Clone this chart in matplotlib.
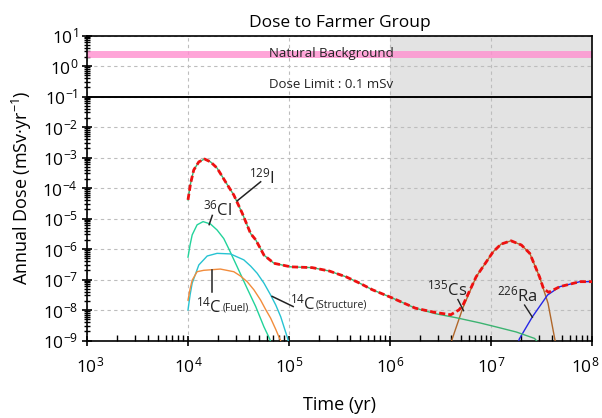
import matplotlib
matplotlib.use("Agg")
import matplotlib.pyplot as plt
import matplotlib.transforms as mtransforms
from matplotlib.ticker import LogLocator, LogFormatterSciNotation, NullFormatter

FONT = "Open Sans"
plt.rcParams['font.family'] = [FONT, 'DejaVu Sans']
plt.rcParams['mathtext.fontset'] = 'custom'
plt.rcParams['mathtext.rm'] = FONT
plt.rcParams['mathtext.it'] = FONT
plt.rcParams['mathtext.default'] = 'regular'

# ---- data (time in yr, dose in mSv/yr) ----
t_i129 = [1.0e4, 1.06e4, 1.14e4, 1.28e4, 1.46e4, 1.67e4, 1.94e4, 2.35e4, 2.84e4, 3.44e4,
          4.17e4, 4.68e4, 5.65e4, 7.1e4, 1.04e5, 1.7e5, 2.5e5, 3.66e5, 5.0e5, 6.7e5,
          1.02e6, 1.78e6, 2.8e6, 4.5e6, 7.7e6, 1.12e7, 1.78e7, 2.7e7, 2.9e7]
d_i129 = [4.1e-5, 1.4e-4, 3.9e-4, 7.2e-4, 8.9e-4, 7.2e-4, 4.5e-4, 1.6e-4, 5.9e-5, 1.5e-5,
          3.2e-6, 2.0e-6, 6.3e-7, 3.4e-7, 2.6e-7, 2.45e-7, 1.9e-7, 1.23e-7, 7.6e-8, 4.6e-8,
          2.6e-8, 1.15e-8, 7.6e-9, 5.6e-9, 3.8e-9, 2.8e-9, 1.9e-9, 1.17e-9, 8.9e-10]

t_cl36 = [1.0e4, 1.05e4, 1.1e4, 1.23e4, 1.41e4, 1.67e4, 1.94e4, 2.26e4, 2.54e4, 3.07e4,
          3.85e4, 4.68e4, 5.65e4, 6.46e4, 6.8e4]
d_cl36 = [5.4e-7, 1.4e-6, 2.9e-6, 6.2e-6, 7.9e-6, 6.6e-6, 4.2e-6, 2.2e-6, 1.0e-6, 2.6e-7,
          5.1e-8, 1.3e-8, 2.8e-9, 1.1e-9, 6e-10]

t_c14s = [1.0e4, 1.05e4, 1.1e4, 1.28e4, 1.55e4, 1.94e4, 2.63e4, 3.57e4, 4.17e4, 4.84e4,
          5.65e4, 6.58e4, 7.4e4, 8.28e4, 9.6e4, 1.0e5]
d_c14s = [1.0e-8, 3.2e-8, 7.6e-8, 3.0e-7, 5.9e-7, 7.2e-7, 6.9e-7, 4.4e-7, 2.75e-7, 1.6e-7,
          7.6e-8, 3.1e-8, 1.45e-8, 6.0e-9, 1.3e-9, 8e-10]

t_c14f = [1.0e4, 1.05e4, 1.1e4, 1.23e4, 1.43e4, 2.09e4, 2.84e4, 3.31e4, 3.85e4, 4.49e4,
          5.24e4, 5.86e4, 6.58e4, 7.4e4, 8.13e4, 8.5e4]
d_c14f = [2.1e-8, 5.0e-8, 9.5e-8, 1.8e-7, 2.0e-7, 2.2e-7, 1.8e-7, 1.3e-7, 8.5e-8, 4.6e-8,
          2.1e-8, 1.05e-8, 5.4e-9, 2.3e-9, 1.1e-9, 8e-10]

t_cs135 = [4.0e6, 4.12e6, 5.25e6, 7.13e6, 1.05e7, 1.26e7, 1.58e7, 2.0e7, 2.42e7, 3.02e7,
           3.67e7, 4.27e7, 4.37e7]
d_cs135 = [8e-10, 1.1e-9, 1.15e-8, 1.23e-7, 8.1e-7, 1.45e-6, 1.86e-6, 1.35e-6, 7.2e-7, 1.23e-7,
           1.66e-8, 1.17e-9, 8e-10]

t_ra226 = [1.86e7, 1.9e7, 2.57e7, 3.63e7, 4.79e7, 7.6e7, 1.0e8]
d_ra226 = [8e-10, 1.1e-9, 6.0e-9, 3.1e-8, 5.8e-8, 8.5e-8, 8.5e-8]

t_total = [1.0e4, 1.06e4, 1.14e4, 1.28e4, 1.46e4, 1.67e4, 1.94e4, 2.35e4, 2.84e4, 3.44e4,
           4.17e4, 4.68e4, 5.65e4, 7.1e4, 1.04e5, 1.7e5, 2.5e5, 3.66e5, 5.0e5, 6.7e5,
           1.02e6, 1.78e6, 2.8e6, 4.0e6, 4.8e6, 5.25e6, 7.13e6, 1.05e7, 1.26e7, 1.58e7,
           2.0e7, 2.42e7, 3.02e7, 3.31e7, 3.72e7, 4.79e7, 7.6e7, 1.0e8]
d_total = [4.1e-5, 1.4e-4, 3.9e-4, 7.2e-4, 8.9e-4, 7.2e-4, 4.5e-4, 1.6e-4, 5.9e-5, 1.5e-5,
           3.2e-6, 2.0e-6, 6.3e-7, 3.4e-7, 2.6e-7, 2.45e-7, 1.9e-7, 1.23e-7, 7.6e-8, 4.6e-8,
           2.6e-8, 1.15e-8, 8.3e-9, 7.0e-9, 1.0e-8, 1.4e-8, 1.23e-7, 8.1e-7, 1.45e-6, 1.86e-6,
           1.35e-6, 7.2e-7, 1.23e-7, 5.0e-8, 3.8e-8, 5.8e-8, 8.5e-8, 8.5e-8]

natural_background = 2.4
dose_limit = 0.1

fig = plt.figure(figsize=(6.02, 4.18), dpi=100)
ax = fig.add_axes([87/602, 77.5/418, 505/602, 305/418])
ax.set_xscale('log')
ax.set_yscale('log')
ax.set_xlim(1e3, 1e8)
ax.set_ylim(1e-9, 1e1)

ax.axvspan(1e6, 1e8, color='#e3e3e3', zorder=0, lw=0)
ax.set_axisbelow(True)
ax.grid(True, which='major', ls=(0, (3, 3)), color='#bdbdbd', lw=0.8)

ax.axhline(natural_background, color='#ff8fcf', lw=5, alpha=0.8, zorder=2)
ax.axhline(dose_limit, color='black', lw=1.4, zorder=3)

lw = 1.0
ax.plot(t_cl36, d_cl36, color='#22d39a', lw=lw, zorder=4)
ax.plot(t_c14s, d_c14s, color='#27c3d2', lw=lw, zorder=4)
ax.plot(t_c14f, d_c14f, color='#f28c3c', lw=lw, zorder=4)
ax.plot(t_cs135, d_cs135, color='#b0672a', lw=lw, zorder=4)
ax.plot(t_ra226, d_ra226, color='#2626e6', lw=lw, zorder=4)
ax.plot(t_i129, d_i129, color='#3cb371', lw=lw, zorder=4)
ax.plot(t_total, d_total, color='#ee1111', lw=2.0, dashes=(2.2, 1.1), zorder=5)

# labels
fs_lab = 12
tc = '#222222'
ax.text(5.4e4, 2.3e-4, '$^{129}$I', fontsize=fs_lab, ha='center', va='center', color=tc)
ax.plot([5.24e4, 3.07e4], [1.6e-4, 3.8e-5], color=tc, lw=1.1, zorder=6)
ax.text(1.97e4, 2.0e-5, '$^{36}$Cl', fontsize=fs_lab, ha='center', va='center', color=tc)
ax.plot([1.74e4, 1.62e4], [1.26e-5, 6.3e-6], color=tc, lw=1.1, zorder=6)

ax.text(1.61e4, 1.35e-8, '$^{14}$C', fontsize=fs_lab, ha='center', va='center', color=tc)
ax.text(2.2e4, 1.2e-8, '(Fuel)', fontsize=7.5, ha='left', va='center', color=tc)
ax.plot([1.74e4, 1.74e4], [2.0e-7, 3.9e-8], color=tc, lw=1.1, zorder=6)

ax.text(1.38e5, 1.6e-8, '$^{14}$C', fontsize=fs_lab, ha='center', va='center', color=tc)
ax.text(1.85e5, 1.42e-8, '(Structure)', fontsize=7.5, ha='left', va='center', color=tc)
ax.plot([6.8e4, 1.1e5], [2.8e-8, 1.3e-8], color=tc, lw=1.1, zorder=6)

ax.text(3.7e6, 4.6e-8, '$^{135}$Cs', fontsize=fs_lab, ha='center', va='center', color=tc)
ax.plot([4.7e6, 5.35e6], [2.2e-8, 9.5e-9], color=tc, lw=1.0, zorder=6)
ax.text(1.82e7, 3.0e-8, '$^{226}$Ra', fontsize=fs_lab, ha='center', va='center', color=tc)
ax.plot([2.15e7, 2.57e7], [1.45e-8, 5.8e-9], color=tc, lw=1.0, zorder=6)

ax.text(2.6e5, 2.5, 'Natural Background', fontsize=9.5, ha='center', va='center', color=tc, zorder=6)
ax.text(2.6e5, 0.24, 'Dose Limit : 0.1 mSv', fontsize=9.5, ha='center', va='center', color=tc)

# axes styling
ax.xaxis.set_major_locator(LogLocator(base=10, numticks=20))
ax.xaxis.set_minor_locator(LogLocator(base=10, subs=range(2, 10), numticks=20))
ax.yaxis.set_major_locator(LogLocator(base=10, numticks=20))
ax.yaxis.set_minor_locator(LogLocator(base=10, subs=range(2, 10), numticks=20))
ax.xaxis.set_major_formatter(LogFormatterSciNotation())
ax.yaxis.set_major_formatter(LogFormatterSciNotation())
ax.xaxis.set_minor_formatter(NullFormatter())
ax.yaxis.set_minor_formatter(NullFormatter())
ax.tick_params(axis='x', which='major', direction='inout', length=7, width=1.2, labelsize=12.5, pad=8)
ax.tick_params(axis='x', which='minor', direction='in', length=4, width=1.0)
ax.tick_params(axis='y', which='major', direction='inout', length=7, width=1.2, labelsize=12.5, pad=3)
ax.tick_params(axis='y', which='minor', direction='inout', length=4, width=1.0)
for s in ax.spines.values():
    s.set_linewidth(1.2)

ax.set_xlabel('Time (yr)', fontsize=13, labelpad=14)
ax.set_ylabel('Annual Dose (mSv·yr$^{-1}$)', fontsize=13, labelpad=6)
ax.set_title('Dose to Farmer Group', fontsize=12.5, pad=6)

# nudge the outermost x tick labels so they stay inside the canvas
fig.canvas.draw()
xticks = ax.xaxis.get_major_ticks()
xlocs = ax.get_xticks()
for tk, loc in zip(xticks, xlocs):
    if abs(loc - 1e8) / 1e8 < 1e-6:
        tk.label1.set_transform(tk.label1.get_transform() +
                                mtransforms.ScaledTranslation(-5/72, 0, fig.dpi_scale_trans))
    if abs(loc - 1e3) / 1e3 < 1e-6:
        tk.label1.set_transform(tk.label1.get_transform() +
                                mtransforms.ScaledTranslation(2/72, 0, fig.dpi_scale_trans))

fig.savefig('out.png', dpi=100)
